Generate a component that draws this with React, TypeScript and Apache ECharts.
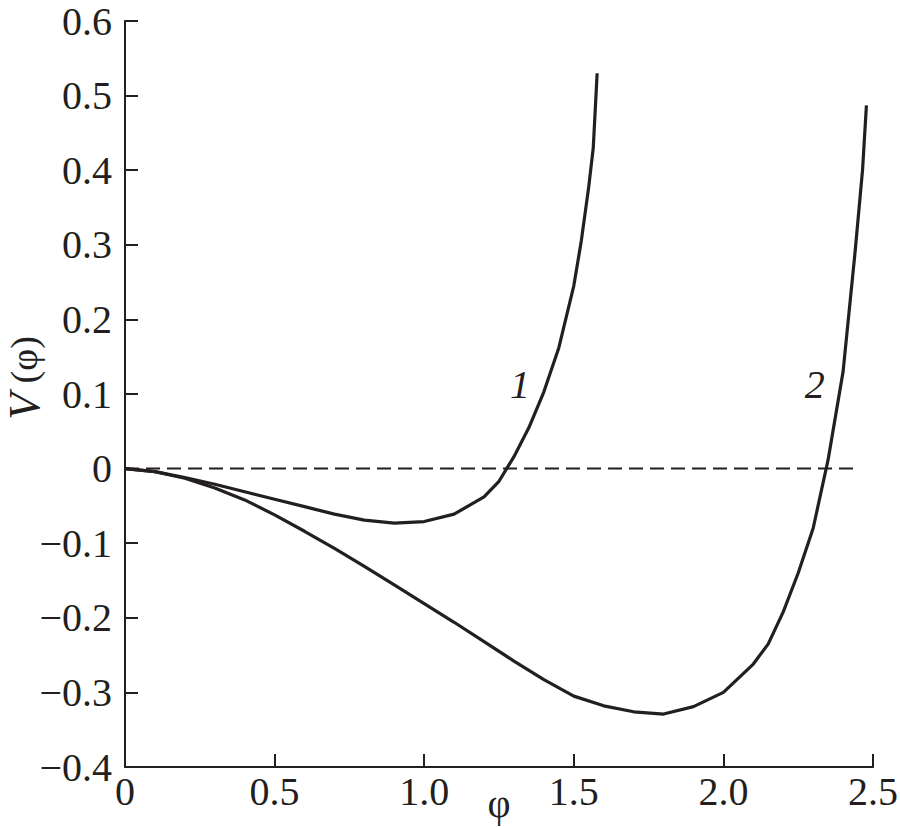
import React, { useEffect, useRef } from "react";
import * as echarts from "echarts";

const INK = "#231f20";
const FONT = "Liberation Serif";

const xTicks = [0, 0.5, 1.0, 1.5, 2.0, 2.5];
const yTicks = [-0.4, -0.3, -0.2, -0.1, 0, 0.1, 0.2, 0.3, 0.4, 0.5, 0.6];

const curve1Phi = [0, 0.1, 0.2, 0.3, 0.4, 0.5, 0.6, 0.7, 0.8, 0.9, 1.0, 1.1, 1.2, 1.25, 1.3, 1.35, 1.4, 1.45, 1.5, 1.525, 1.55, 1.565, 1.578];
const curve1V = [0, -0.004, -0.012, -0.021, -0.031, -0.041, -0.051, -0.061, -0.069, -0.073, -0.071, -0.061, -0.038, -0.017, 0.016, 0.055, 0.103, 0.162, 0.245, 0.305, 0.378, 0.43, 0.53];

const curve2Phi = [0, 0.1, 0.2, 0.3, 0.4, 0.5, 0.6, 0.7, 0.8, 0.9, 1.0, 1.1, 1.2, 1.3, 1.4, 1.5, 1.6, 1.7, 1.8, 1.9, 2.0, 2.1, 2.15, 2.2, 2.25, 2.3, 2.35, 2.4, 2.44, 2.465, 2.478];
const curve2V = [0, -0.004, -0.013, -0.026, -0.042, -0.062, -0.084, -0.107, -0.131, -0.156, -0.181, -0.206, -0.232, -0.258, -0.283, -0.305, -0.318, -0.326, -0.329, -0.319, -0.3, -0.262, -0.235, -0.192, -0.14, -0.08, 0.012, 0.13, 0.29, 0.4, 0.487];

const zeroLinePhi = [0, 2.455];
const zeroLineV = [0, 0];

const curveNames = ["1", "2"];
const curveLabelPhi = [1.32, 2.305];
const curveLabelV = [0.113, 0.113];

const zip = (a: number[], b: number[]) => a.map((v, i) => [v, b[i]]);

export default function App() {
  const ref = useRef<HTMLDivElement>(null);

  useEffect(() => {
    if (!ref.current) return;
    const chart = echarts.init(ref.current, undefined, { renderer: "svg" });

    const labelMark = (i: number) => ({
      symbol: "circle",
      symbolSize: 0,
      silent: true,
      label: {
        show: true,
        position: "inside",
        formatter: curveNames[i],
        color: INK,
        fontFamily: FONT,
        fontStyle: "italic",
        fontSize: 40,
      },
      data: [{ coord: [curveLabelPhi[i], curveLabelV[i]] }],
    });

    chart.setOption({
      animation: false,
      backgroundColor: "#ffffff",
      grid: {
        left: 125,
        right: 27,
        top: 21,
        bottom: 60,
        containLabel: false,
        outerBoundsMode: "none",
      },
      xAxis: {
        type: "value",
        min: xTicks[0],
        max: xTicks[xTicks.length - 1],
        interval: 0.5,
        name: "φ",
        nameLocation: "middle",
        nameGap: 16,
        nameMoveOverlap: false,
        nameTextStyle: { color: INK, fontFamily: FONT, fontSize: 40 },
        axisLine: { onZero: false, lineStyle: { color: INK, width: 2 } },
        axisTick: { inside: true, length: 13, lineStyle: { color: INK, width: 2 } },
        splitLine: { show: false },
        axisLabel: {
          color: INK,
          fontFamily: FONT,
          fontSize: 40,
          margin: 4,
          formatter: (v: number) => (Math.abs(v) < 1e-9 ? "0" : v.toFixed(1)),
        },
      },
      yAxis: {
        type: "value",
        min: yTicks[0],
        max: yTicks[yTicks.length - 1],
        interval: 0.1,
        axisLine: { onZero: false, lineStyle: { color: INK, width: 2 } },
        axisTick: { inside: true, length: 13, lineStyle: { color: INK, width: 2 } },
        splitLine: { show: false },
        axisLabel: {
          color: INK,
          fontFamily: FONT,
          fontSize: 40,
          margin: 13,
          formatter: (v: number) =>
            Math.abs(v) < 1e-9 ? "0" : (v < 0 ? "\u2212" : "") + Math.abs(v).toFixed(1),
        },
      },
      graphic: [
        {
          type: "text",
          x: 24,
          y: 378,
          rotation: Math.PI / 2,
          style: {
            text: "{i|V} (φ)",
            rich: {
              i: { fontStyle: "italic", fontSize: 44, fontFamily: FONT, fill: INK },
            },
            fontFamily: FONT,
            fontSize: 38,
            fill: INK,
            align: "center",
            verticalAlign: "middle",
          },
        },
      ],
      series: [
        {
          type: "line",
          data: zip(zeroLinePhi, zeroLineV),
          showSymbol: false,
          symbol: "none",
          lineStyle: { color: INK, width: 2, type: [14, 7] },
          z: 1,
        },
        {
          type: "line",
          data: zip(curve1Phi, curve1V),
          showSymbol: false,
          symbol: "none",
          lineStyle: { color: INK, width: 3.2 },
          markPoint: labelMark(0),
          z: 2,
        },
        {
          type: "line",
          data: zip(curve2Phi, curve2V),
          showSymbol: false,
          symbol: "none",
          lineStyle: { color: INK, width: 3.2 },
          markPoint: labelMark(1),
          z: 2,
        },
      ],
    });

    return () => chart.dispose();
  }, []);

  return (
    <div
      ref={ref}
      style={{ position: "fixed", left: 0, top: 0, width: 900, height: 827, background: "#fff" }}
    />
  );
}
